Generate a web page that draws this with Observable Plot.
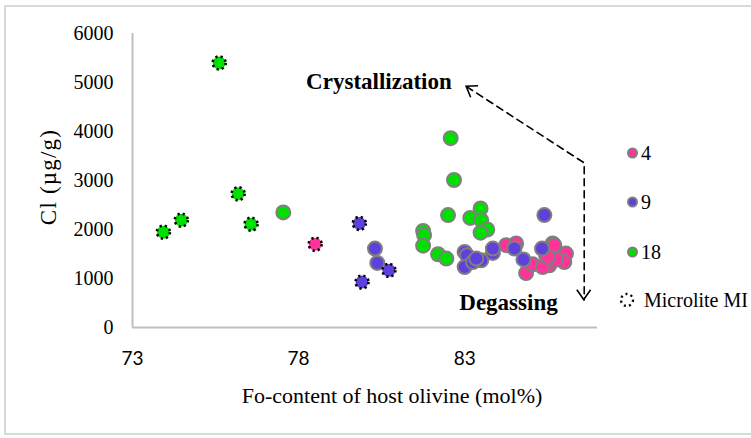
<!DOCTYPE html>
<html>
<head>
<meta charset="utf-8">
<script src="https://cdn.jsdelivr.net/npm/d3@7"></script>
<script src="https://cdn.jsdelivr.net/npm/@observablehq/plot@0.6"></script>
<style>
  body { margin: 0; background: #fff; width: 751px; height: 438px; overflow: hidden; position: relative; }
  #frame { position: absolute; left: 4px; top: 5px; width: 760px; height: 430px; border: 2px solid #d9d9d9; box-sizing: border-box; }
  #chart { position: absolute; left: 0; top: 0; }
  #legend { position: absolute; left: 0; top: 0; font-family: "Liberation Serif", serif; font-size: 20px; color: #000; }
  .item { position: absolute; display: flex; align-items: center; white-space: nowrap; }
</style>
</head>
<body>
<div id="frame"></div>
<div id="chart"></div>
<div id="legend"></div>
<script>
// Series: sample 4 (pink), 9 (blue), 18 (green); "micro" = microlite melt inclusions
const series = ["4", "9", "18"];
const colors = ["#ff3399", "#6040dc", "#00e000"];

const fo4 = [84.25, 84.55, 84.85, 85.05, 85.65, 85.75, 85.45, 85.55, 85.35, 86.05, 86.0, 85.75, 85.7, 85.5];
const cl4 = [1680, 1714, 1110, 1290, 1714, 1543, 1474, 1270, 1235, 1509, 1337, 1390, 1680, 1440];

const fo9 = [80.30, 80.37, 83.0, 83.07, 83.0, 83.25, 83.5, 83.85, 83.85, 85.4, 84.5, 84.77, 85.33, 83.35];
const cl9 = [1611, 1317, 1543, 1474, 1235, 1337, 1372, 1522, 1611, 2294, 1611, 1390, 1611, 1406];

const fo18 = [77.54, 82.58, 82.68, 82.50, 83.17, 83.48, 83.50, 83.68, 83.48, 81.75, 81.78, 81.75, 82.20, 82.45];
const cl18 = [2349, 3864, 3010, 2294, 2236, 2431, 2191, 2000, 1935, 1970, 1884, 1670, 1495, 1406];

const foMicro = [75.61, 76.18, 74.47, 73.93, 76.57, 78.50, 79.83, 79.91, 80.72];
const clMicro = [5400, 2730, 2191, 1946, 2109, 1700, 2124, 928, 1167];
const sMicro = ["18", "18", "18", "18", "18", "4", "9", "9", "9"];

const xTicks = [73, 78, 83];
const yTicks = [0, 1000, 2000, 3000, 4000, 5000, 6000];

// Annotation: dashed trend path (Fo, Cl): crystallization tip, corner, degassing tip
const trendFo = [83.06, 86.6, 86.6];
const trendCl = [4915, 3359, 560];
const labels = ["Crystallization", "Degassing"];
const labelFo = [80.42, 84.32];
const labelCl = [5017, 512];

const normal = [
  ...fo4.map((x, i) => ({x, y: cl4[i], s: "4"})),
  ...fo9.map((x, i) => ({x, y: cl9[i], s: "9"})),
  ...fo18.map((x, i) => ({x, y: cl18[i], s: "18"}))
];
const micro = foMicro.map((x, i) => ({x, y: clMicro[i], s: sMicro[i]}));
const trend = trendFo.map((x, i) => ({x, y: trendCl[i]}));
const labs = labels.map((t, i) => ({t, x: labelFo[i], y: labelCl[i]}));

const serif = "Liberation Serif, serif";

const plot = Plot.plot({
  width: 751,
  height: 438,
  marginLeft: 132,
  marginRight: 154,
  marginTop: 33,
  marginBottom: 111,
  style: { background: "transparent", fontFamily: serif },
  x: { domain: [73, 87], ticks: xTicks, tickSize: 0, tickPadding: 24, tickFormat: d => String(d), label: null },
  y: { domain: [0, 6000], ticks: yTicks, tickSize: 0, tickPadding: 19, tickFormat: d => String(d), label: null },
  color: { domain: series, range: colors },
  marks: [
    Plot.ruleY([0], { stroke: "#bfbfbf", strokeWidth: 2 }),
    Plot.ruleX([73], { stroke: "#bfbfbf", strokeWidth: 2 }),
    Plot.dot(normal, { x: "x", y: "y", fill: "s", r: 7, stroke: "#7f7f7f", strokeWidth: 2 }),
    Plot.dot(micro, { x: "x", y: "y", fill: "s", r: 6.5, stroke: "#000", strokeWidth: 2.6, strokeDasharray: "2.2,3" }),
    Plot.line(trend, { x: "x", y: "y", stroke: "#000", strokeWidth: 1.6, strokeDasharray: "7,5" }),
    Plot.text(labs, { x: "x", y: "y", text: "t", fontSize: 23, fontWeight: "bold", fontFamily: serif, fill: "#000" })
  ]
});
document.getElementById("chart").appendChild(plot);

const svg = d3.select(plot);
const sx = plot.scale("x"), sy = plot.scale("y");

// open arrow heads at both ends of the trend path, positioned through the plot's scales
const px = trend.map(d => [sx.apply(d.x), sy.apply(d.y)]);
const headLen = 12, headAng = 35 * Math.PI / 180;
[[px[1], px[0]], [px[1], px[2]]].forEach(([from, tip]) => {
  const a = Math.atan2(from[1] - tip[1], from[0] - tip[0]);
  const p1 = [tip[0] + headLen * Math.cos(a + headAng), tip[1] + headLen * Math.sin(a + headAng)];
  const p2 = [tip[0] + headLen * Math.cos(a - headAng), tip[1] + headLen * Math.sin(a - headAng)];
  svg.append("path")
    .attr("d", `M${p1[0]},${p1[1]}L${tip[0]},${tip[1]}L${p2[0]},${p2[1]}`)
    .attr("fill", "none").attr("stroke", "#000").attr("stroke-width", 1.6);
});

// styling of axes text
svg.selectAll("[aria-label='y-axis tick label'] text").attr("font-size", 20).attr("font-family", serif).attr("fill", "#000");
svg.selectAll("[aria-label='x-axis tick label'] text").attr("font-size", 19).attr("font-family", "Lato, sans-serif").attr("fill", "#000");

// axis titles
svg.append("text").attr("x", 392).attr("y", 403).attr("text-anchor", "middle")
  .attr("font-family", serif).attr("font-size", 22).attr("fill", "#000")
  .text("Fo-content of host olivine (mol%)");
svg.append("text").attr("transform", "translate(56,177) rotate(-90)").attr("text-anchor", "middle")
  .attr("font-family", serif).attr("font-size", 23).attr("letter-spacing", 1.2).attr("fill", "#000")
  .text("Cl (µg/g)");

// legend
const legend = document.getElementById("legend");
const legY = [153, 202, 252];
series.forEach((s, i) => {
  const d = document.createElement("div");
  d.className = "item";
  d.style.left = "626px";
  d.style.top = (legY[i] - 12) + "px";
  d.innerHTML = `<svg width="14" height="24"><circle cx="6.5" cy="12" r="4.5" fill="${colors[i]}" stroke="#7f7f7f" stroke-width="2"/></svg><span style="margin-left:1px">${s}</span>`;
  legend.appendChild(d);
});
const m = document.createElement("div");
m.className = "item";
m.style.left = "618px";
m.style.top = "288px";
m.innerHTML = `<svg width="18" height="24"><circle cx="9" cy="12" r="6" fill="none" stroke="#000" stroke-width="2.3" stroke-dasharray="2,3.2"/></svg><span style="margin-left:8px">Microlite MI</span>`;
legend.appendChild(m);
</script>
</body>
</html>
